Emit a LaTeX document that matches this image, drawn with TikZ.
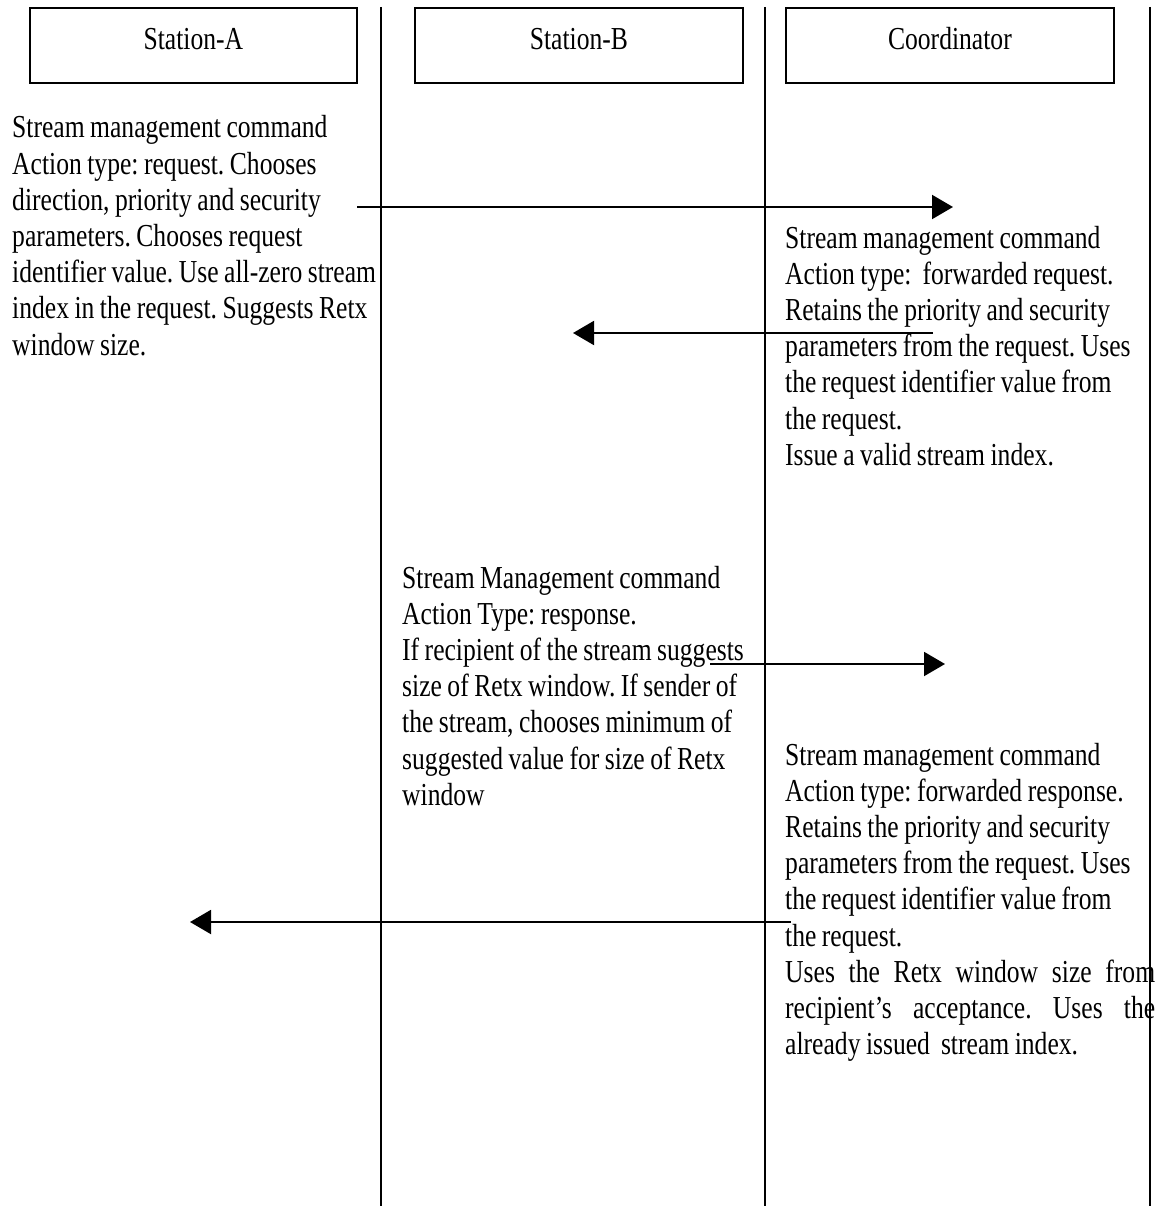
\documentclass[tikz,border=0pt]{standalone}
\usepackage{fontspec}
\setmainfont{Liberation Serif}[FakeStretch=0.8]
\usetikzlibrary{arrows.meta}
\frenchspacing
\newcommand{\notefont}{\fontsize{32}{36.2}\selectfont\spaceskip=5.5pt plus 40pt\relax}
\begin{document}
\begin{tikzpicture}[x=1pt,y=-1pt,
  lane/.style={line width=1.3pt},
  actor/.style={draw, line width=1.8pt, minimum height=75pt, inner sep=0pt,
    anchor=north west, text height=21pt, text depth=12pt,
    font=\fontsize{32}{36}\selectfont},
  note/.style={anchor=base west, inner sep=0pt, font=\notefont},
  msg/.style={line width=2pt, -{Triangle[length=21pt,width=24pt]}}]
\useasboundingbox (0,0) rectangle (1157,1206);

% actor boxes
\node[actor, minimum width=327pt] (sa) at (29,7) {Station-A};
\node[actor, minimum width=328pt] (sb) at (414,7) {Station-B};
\node[actor, minimum width=328pt] (co) at (785,7) {Coordinator};

% notes
\node[note] (na) at (12,138) {\parbox[t]{400pt}{\raggedright
Stream management command\\
Action type: request. Chooses\\
direction, priority and security\\
parameters. Chooses request\\
identifier value. Use all-zero stream\\
index in the request. Suggests Retx\\
window size.}};

\node[note] (nc1) at (785,248) {\parbox[t]{400pt}{\raggedright
Stream management command\\
Action type:\ \ forwarded request.\\
Retains the priority and security\\
parameters from the request. Uses\\
the request identifier value from\\
the request.\\
Issue a valid stream index.}};

\node[note] (nb) at (402,588) {\parbox[t]{400pt}{\raggedright
Stream Management command\\
Action Type: response.\\
If recipient of the stream suggests\\
size of Retx window. If sender of\\
the stream, chooses minimum of\\
suggested value for size of Retx\\
window}};

\node[note] (nc2) at (785,765) {\parbox[t]{400pt}{\raggedright
Stream management command\\
Action type: forwarded response.\\
Retains the priority and security\\
parameters from the request. Uses\\
the request identifier value from\\
the request.\\
\makebox[370pt][s]{Uses the Retx window size from}\\
\makebox[370pt][s]{recipient's acceptance. Uses the}\\
already issued\ \ stream index.}};

% lifelines
\coordinate (l1t) at (381,7);   \coordinate (l1b) at (381,1206);
\coordinate (l2t) at (765,7);   \coordinate (l2b) at (765,1206);
\coordinate (l3t) at (1150,7);  \coordinate (l3b) at (1150,1206);
\draw[lane] (l1t) -- (l1b);
\draw[lane] (l2t) -- (l2b);
\draw[lane] (l3t) -- (l3b);

% messages
\coordinate (m1s) at (357,207); \coordinate (m1e) at (953,207);
\coordinate (m2s) at (933,333); \coordinate (m2e) at (573,333);
\coordinate (m3s) at (710,664); \coordinate (m3e) at (945,664);
\coordinate (m4s) at (791,922); \coordinate (m4e) at (190,922);
\draw[msg] (m1s) -- (m1e);
\draw[msg] (m2s) -- (m2e);
\draw[msg] (m3s) -- (m3e);
\draw[msg] (m4s) -- (m4e);
\end{tikzpicture}
\end{document}
